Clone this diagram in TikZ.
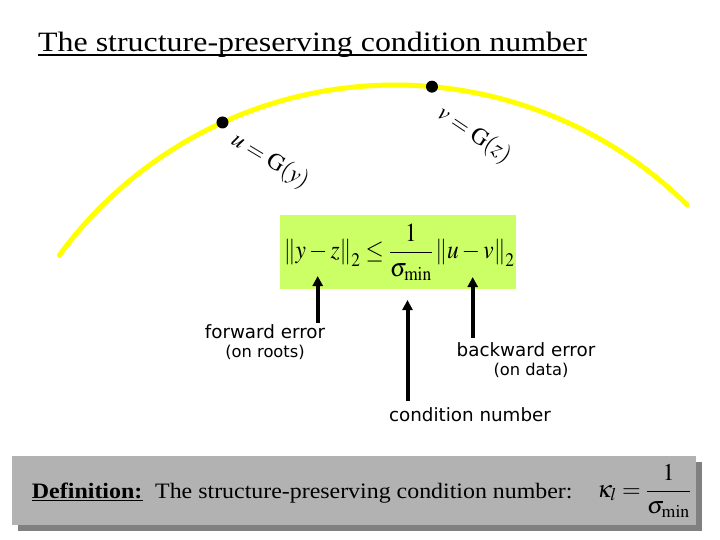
\documentclass[tikz,border=0pt]{standalone}
\usepackage{mathptmx}
\usepackage[no-math]{fontspec}
\setmainfont{Liberation Serif}
\setsansfont{DejaVu Sans}
\usetikzlibrary{arrows.meta}
\definecolor{boxgreen}{HTML}{CCFF66}
\definecolor{defgray}{HTML}{B2B2B2}
\definecolor{shadowgray}{HTML}{808080}
\definecolor{curveyellow}{HTML}{FFFF00}
\tikzset{
  lbltext/.style={font=\sffamily\fontsize{18.3}{21}\selectfont, inner sep=0pt, anchor=base},
  sublbl/.style={font=\sffamily\fontsize{16.3}{19}\selectfont, inner sep=0pt, anchor=base},
  bigarrow/.style={line width=4pt, -{Triangle[width=10pt,length=10pt]}},
  rootdot/.style={circle, fill=black, inner sep=0pt, minimum size=12pt},
  serifline/.style={anchor=base west, inner sep=0pt},
}
\begin{document}
\begin{tikzpicture}[x=1pt,y=-1pt]
\useasboundingbox (0,0) rectangle (720,540);
% title
\node[serifline, font=\fontsize{28}{32}\selectfont] (title) at (38,51.5)
  {\scalebox{1.14}[1]{The structure-preserving condition number}};
\draw[line width=1.8pt] ([yshift=-3.5pt]title.base west) -- ([yshift=-3.5pt]title.base east);
% curve (circular arc)
\draw[curveyellow, line width=5pt, line cap=round]
  plot[domain=-143.8:-45.4, samples=80, smooth] ({395+416*cos(\x)}, {501+416*sin(\x)});
\node[rootdot] (u) at ({395+416*cos(-114.5)}, {501+416*sin(-114.5)}) {};
\node[rootdot] (v) at ({395+416*cos(-84.9)}, {501+416*sin(-84.9)}) {};
\node[rotate=-31, inner sep=0pt, font=\fontsize{23.5}{25}\selectfont] (ulab) at (270,161) {$u = \mathrm{G}(y)$};
\node[rotate=-34, inner sep=0pt, font=\fontsize{23.5}{25}\selectfont] (vlab) at (474,135) {$v = \mathrm{G}(z)$};
% green formula box
\node[fill=boxgreen, minimum width=236pt, minimum height=74pt, inner sep=0pt, anchor=north west] (gbox) at (280,215) {};
\node[inner sep=0pt, font=\fontsize{26}{30}\selectfont] (formula) at ([xshift=1pt]gbox.center)
  {\scalebox{0.9}[1]{$\displaystyle \left\|y-z\right\|_2 \le \frac{1}{\sigma_{\min}}\left\|u-v\right\|_2$}};
% labels
\node[lbltext] (fe) at (265,338) {forward error};
\node[sublbl] (fer) at (265,357) {(on roots)};
\node[lbltext] (be) at (526,356) {backward error};
\node[sublbl] (bed) at (531,375) {(on data)};
\node[lbltext] (cn) at (470,421) {condition number};
% arrows
\coordinate (fetail) at (317.7,323);
\coordinate (fetip) at (317.7,276);
\coordinate (cntail) at (407.5,401);
\coordinate (cntip) at (407.5,300);
\coordinate (betail) at (472.7,338);
\coordinate (betip) at (472.7,277);
\draw[bigarrow] (fetail) -- (fetip);
\draw[bigarrow] (cntail) -- (cntip);
\draw[bigarrow] (betail) -- (betip);
% definition box
\node[fill=shadowgray, minimum width=684pt, minimum height=69pt, inner sep=0pt, anchor=north west] (shadow) at (18,462) {};
\node[fill=defgray, minimum width=684pt, minimum height=69pt, inner sep=0pt, anchor=north west] (defbox) at (12,456) {};
\node[serifline, font=\fontsize{22}{24}\selectfont] (deflab) at (31.7,498)
  {\scalebox{1.09}[1]{\textbf{Definition:}}};
\draw[line width=1.3pt] ([yshift=-2.5pt]deflab.base west) -- ([yshift=-2.5pt]deflab.base east);
\node[serifline, font=\fontsize{22}{24}\selectfont] (deftxt) at (155,498)
  {\scalebox{1.086}[1]{The structure-preserving condition number:}};
\node[serifline, font=\fontsize{24}{26}\selectfont] (kappa) at (597,497)
  {$\displaystyle \kappa_l = \frac{1}{\sigma_{\min}}$};
\end{tikzpicture}
\end{document}
